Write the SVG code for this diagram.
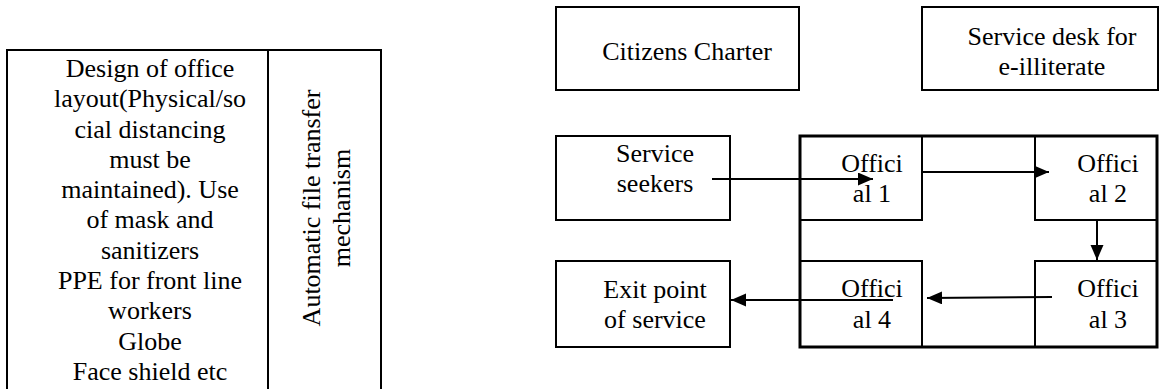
<svg xmlns="http://www.w3.org/2000/svg" width="1166" height="389" viewBox="0 0 1166 389">
<style>
.b{fill:none;stroke:#000;stroke-width:2}
.k{fill:none;stroke:#000;stroke-width:3}
text{font-family:'Liberation Serif','Times New Roman',Times,'DejaVu Serif',serif;font-size:26px;fill:#000;text-anchor:middle}
.c{stroke:#000;stroke-width:2;fill:none;marker-end:url(#ah)}
</style>
<defs>
<marker id="ah" markerUnits="userSpaceOnUse" markerWidth="16" markerHeight="14" refX="15" refY="6.5" orient="auto">
<path d="M0,0 L15,6.5 L0,13 z" fill="#000"/>
</marker>
</defs>
<rect width="1166" height="389" fill="#fff"/>
<g font-family="Liberation Serif, Times New Roman, DejaVu Serif, serif">
<g id="precautions">
<rect class="b" x="7" y="50" width="261" height="345"/>
<text x="150" y="77">Design of office</text>
<text x="150" y="107">layout(Physical/so</text>
<text x="150" y="138">cial distancing</text>
<text x="150" y="168">must be</text>
<text x="150" y="198">maintained). Use</text>
<text x="150" y="228">of mask and</text>
<text x="150" y="259">sanitizers</text>
<text x="150" y="289">PPE for front line</text>
<text x="150" y="319">workers</text>
<text x="150" y="350">Globe</text>
<text x="150" y="380">Face shield etc</text>
</g>
<g id="file-transfer">
<rect class="b" x="268" y="50" width="113" height="345"/>
<text transform="translate(320,208) rotate(-90)">Automatic file transfer</text>
<text transform="translate(350,208) rotate(-90)">mechanism</text>
</g>
<g id="citizens-charter">
<rect class="b" x="556" y="7" width="243" height="83"/>
<text x="687" y="60">Citizens Charter</text>
</g>
<g id="service-desk">
<rect class="b" x="922" y="7" width="236" height="83"/>
<text x="1052" y="45">Service desk for</text>
<text x="1052" y="75">e-illiterate</text>
</g>
<g id="service-seekers">
<rect class="b" x="556" y="136" width="174" height="84"/>
<text x="655" y="162">Service</text>
<text x="655" y="192">seekers</text>
</g>
<g id="exit-point">
<rect class="b" x="556" y="261" width="174" height="86"/>
<text x="655" y="298">Exit point</text>
<text x="655" y="328">of service</text>
</g>
<g id="office">
<rect class="k" x="800" y="136" width="357" height="211"/>
</g>
<g id="official-1">
<rect class="b" x="800" y="136" width="122" height="84"/>
<text x="872" y="172">Offici</text>
<text x="872" y="202">al 1</text>
</g>
<g id="official-2">
<rect class="b" x="1035" y="136" width="122" height="84"/>
<text x="1108" y="172">Offici</text>
<text x="1108" y="202">al 2</text>
</g>
<g id="official-3">
<rect class="b" x="1035" y="261" width="122" height="86"/>
<text x="1108" y="297">Offici</text>
<text x="1108" y="328">al 3</text>
</g>
<g id="official-4">
<rect class="b" x="800" y="261" width="122" height="86"/>
<text x="872" y="297">Offici</text>
<text x="872" y="328">al 4</text>
</g>
</g>
<g id="connectors">
<line class="c" x1="712" y1="179" x2="873" y2="179"/>
<line class="c" x1="922" y1="172" x2="1049" y2="172"/>
<line class="c" x1="1097" y1="220" x2="1097" y2="260"/>
<line class="c" x1="1052" y1="297" x2="927" y2="298"/>
<line class="c" x1="893" y1="300" x2="731" y2="300"/>
</g>
</svg>
